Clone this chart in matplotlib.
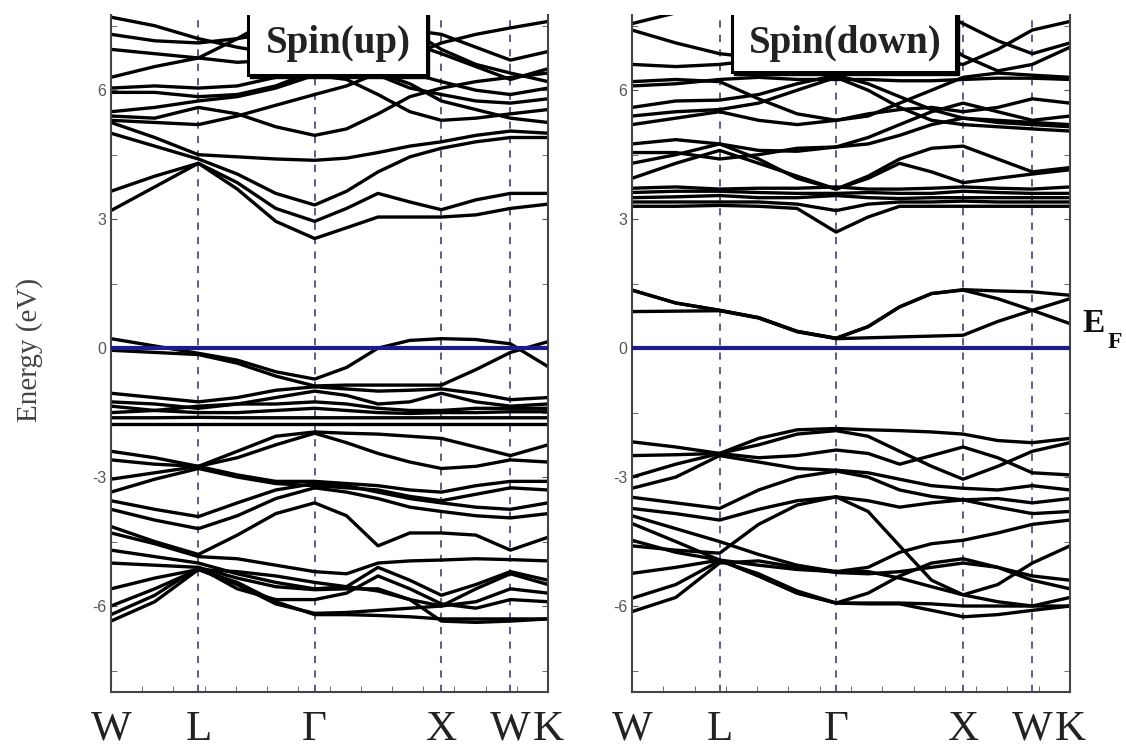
import matplotlib
matplotlib.use("Agg")
import matplotlib.pyplot as plt
from matplotlib.patches import Rectangle

# k-path sample points (fraction of the W-L-G-X-W-K path)
kpts = [0.0, 0.1, 0.2, 0.289, 0.377, 0.466, 0.539, 0.611, 0.684, 0.756, 0.835, 0.914, 1.0]
sym_pos = [0.0, 0.2, 0.466, 0.756, 0.914, 1.0]
sym_lab = ['W', 'L', 'Γ', 'X', 'W', 'K']

# spin up, conduction bands (eV)
up_cond = [
    [3.20, 3.75, 4.30, 3.70, 2.95, 2.55, 2.80, 3.05, 3.05, 3.05, 3.10, 3.25, 3.35],
    [3.65, 4.00, 4.30, 3.85, 3.25, 2.95, 3.25, 3.60, 3.40, 3.22, 3.45, 3.60, 3.60],
    [5.00, 4.70, 4.40, 4.05, 3.60, 3.33, 3.65, 4.10, 4.45, 4.65, 4.80, 4.90, 4.90],
    [5.25, 4.90, 4.50, 4.45, 4.40, 4.37, 4.42, 4.55, 4.70, 4.80, 4.95, 5.05, 5.00],
    [5.40, 5.35, 5.60, 5.45, 5.15, 4.95, 5.10, 5.45, 5.85, 6.05, 6.20, 6.30, 6.40],
    [5.50, 5.60, 5.75, 5.85, 6.05, 6.35, 6.25, 5.90, 5.50, 5.30, 5.35, 5.45, 5.55],
    [5.30, 5.25, 5.20, 5.40, 5.65, 5.90, 6.10, 6.40, 6.80, 7.10, 7.30, 7.45, 7.60],
    [5.95, 5.95, 5.85, 5.90, 6.10, 6.45, 6.60, 6.35, 6.05, 5.90, 5.75, 5.70, 5.80],
    [6.05, 6.10, 6.05, 6.10, 6.30, 6.70, 7.00, 6.80, 6.40, 6.20, 6.00, 5.90, 6.05],
    [6.30, 6.55, 6.75, 7.20, 7.70, 8.00, 8.00, 7.80, 7.40, 6.95, 6.60, 6.40, 6.20],
    [6.95, 6.85, 6.75, 6.65, 6.70, 6.90, 7.10, 7.30, 7.10, 6.85, 6.55, 6.25, 6.50],
    [7.30, 7.15, 7.10, 7.20, 7.35, 7.50, 7.60, 7.55, 7.40, 7.30, 7.00, 6.70, 6.90],
    [7.70, 7.50, 7.20, 7.00, 6.85, 6.70, 6.60, 6.40, 6.15, 5.75, 5.55, 5.35, 5.25],
]

# spin up, bands around the Fermi level
up_fermi = [
    [0.22, 0.05, -0.12, -0.28, -0.55, -0.72, -0.45, 0.00, 0.18, 0.22, 0.20, 0.10, -0.43],
    [-0.05, -0.10, -0.15, -0.35, -0.65, -0.88, -0.86, -0.86, -0.86, -0.86, -0.50, -0.10, 0.15],
    [-1.05, -1.15, -1.25, -1.15, -0.98, -0.90, -0.95, -1.00, -0.98, -0.95, -1.05, -1.20, -1.15],
    [-1.25, -1.30, -1.40, -1.30, -1.15, -1.00, -1.10, -1.30, -1.25, -1.05, -1.25, -1.35, -1.30],
    [-1.35, -1.45, -1.35, -1.30, -1.30, -1.25, -1.30, -1.40, -1.45, -1.45, -1.40, -1.40, -1.40],
    [-1.50, -1.45, -1.50, -1.50, -1.45, -1.40, -1.45, -1.50, -1.52, -1.50, -1.50, -1.48, -1.48],
    [-1.62, -1.62, -1.61, -1.62, -1.62, -1.62, -1.62, -1.62, -1.62, -1.62, -1.62, -1.62, -1.62],
    [-1.76, -1.76, -1.76, -1.76, -1.76, -1.76, -1.76, -1.76, -1.76, -1.76, -1.76, -1.76, -1.76],
]

# spin up, valence bands
up_val = [
    [-2.40, -2.55, -2.75, -2.40, -2.05, -1.95, -1.98, -2.00, -2.05, -2.10, -2.30, -2.50, -2.25],
    [-3.05, -2.90, -2.75, -2.55, -2.25, -1.98, -2.20, -2.45, -2.65, -2.80, -2.75, -2.60, -2.65],
    [-2.60, -2.70, -2.75, -2.95, -3.10, -3.10, -3.15, -3.20, -3.30, -3.35, -3.20, -3.10, -3.10],
    [-3.35, -3.05, -2.80, -3.00, -3.15, -3.20, -3.25, -3.30, -3.45, -3.55, -3.40, -3.25, -3.30],
    [-3.55, -3.75, -3.92, -3.60, -3.30, -3.15, -3.20, -3.35, -3.50, -3.60, -3.70, -3.75, -3.60],
    [-3.75, -4.00, -4.20, -3.90, -3.50, -3.25, -3.35, -3.50, -3.70, -3.80, -3.90, -3.95, -3.85],
    [-4.15, -4.50, -4.80, -4.35, -3.85, -3.60, -3.90, -4.60, -4.30, -4.30, -4.35, -4.70, -4.40],
    [-4.30, -4.55, -4.85, -4.90, -5.05, -5.20, -5.25, -5.00, -4.95, -4.93, -4.90, -4.92, -4.95],
    [-4.70, -4.85, -5.00, -5.25, -5.45, -5.60, -5.55, -5.10, -5.40, -5.75, -5.50, -5.20, -5.40],
    [-5.00, -5.05, -5.10, -5.35, -5.55, -5.62, -5.60, -5.60, -5.85, -6.00, -5.90, -5.60, -5.70],
    [-5.60, -5.35, -5.15, -5.50, -5.95, -6.17, -6.15, -6.10, -6.05, -6.00, -5.60, -5.25, -5.50],
    [-6.00, -5.60, -5.15, -5.45, -5.90, -6.20, -6.20, -6.22, -6.25, -6.30, -6.30, -6.30, -6.30],
    [-6.20, -5.75, -5.10, -5.60, -5.85, -5.85, -5.70, -5.30, -5.60, -5.95, -6.05, -5.85, -5.90],
    [-6.35, -5.90, -5.15, -5.20, -5.30, -5.45, -5.55, -5.65, -5.85, -6.35, -6.38, -6.35, -6.30],
]

# spin down, conduction bands
down_cond = [
    [3.30, 3.30, 3.32, 3.30, 3.25, 2.70, 3.05, 3.30, 3.30, 3.30, 3.30, 3.30, 3.30],
    [3.40, 3.40, 3.40, 3.40, 3.35, 3.20, 3.35, 3.40, 3.40, 3.42, 3.40, 3.40, 3.40],
    [3.50, 3.52, 3.55, 3.50, 3.50, 3.55, 3.50, 3.48, 3.50, 3.50, 3.50, 3.50, 3.50],
    [3.62, 3.65, 3.65, 3.62, 3.60, 3.60, 3.62, 3.60, 3.60, 3.65, 3.62, 3.60, 3.60],
    [3.72, 3.75, 3.70, 3.72, 3.72, 3.75, 3.70, 3.70, 3.72, 3.75, 3.72, 3.70, 3.75],
    [3.95, 4.30, 4.60, 4.30, 4.00, 3.70, 4.00, 4.40, 4.65, 4.70, 4.40, 4.10, 4.20],
    [4.30, 4.50, 4.75, 4.40, 3.95, 3.70, 3.95, 4.30, 4.10, 3.85, 3.95, 4.05, 4.15],
    [4.55, 4.55, 4.40, 4.50, 4.65, 4.68, 4.75, 4.95, 5.20, 5.35, 5.30, 5.25, 5.20],
    [4.75, 4.85, 4.75, 4.60, 4.58, 4.68, 4.90, 5.20, 5.50, 5.70, 5.50, 5.30, 5.40],
    [6.20, 6.25, 6.20, 5.80, 5.45, 5.30, 5.40, 5.70, 6.00, 6.30, 6.40, 6.35, 6.30],
    [5.40, 5.50, 5.55, 5.70, 6.00, 6.30, 6.00, 5.60, 5.30, 5.20, 5.15, 5.10, 5.05],
    [5.60, 5.75, 5.77, 5.90, 6.15, 6.35, 6.15, 5.85, 5.55, 5.35, 5.25, 5.20, 5.15],
    [6.10, 6.15, 6.25, 6.30, 6.25, 6.25, 6.25, 6.22, 6.22, 6.25, 6.28, 6.28, 6.25],
    [7.40, 7.10, 6.85, 6.75, 6.80, 6.90, 7.00, 7.20, 7.30, 6.80, 6.45, 6.60, 7.00],
    [7.55, 7.80, 8.00, 8.00, 8.00, 8.00, 8.00, 8.00, 7.90, 7.55, 7.15, 6.85, 7.10],
    [6.60, 6.55, 6.60, 6.70, 6.80, 6.90, 6.95, 6.85, 6.70, 6.60, 6.95, 7.40, 7.60],
    [5.20, 5.35, 5.50, 5.30, 5.20, 5.30, 5.45, 5.55, 5.60, 5.50, 5.60, 5.80, 5.70],
]

# spin down, bands inside the gap
down_gap = [
    [0.85, 0.86, 0.87, 0.70, 0.38, 0.22, 0.24, 0.26, 0.28, 0.30, 0.62, 0.88, 1.15],
    [1.35, 1.05, 0.88, 0.71, 0.39, 0.23, 0.50, 0.96, 1.27, 1.35, 1.15, 0.88, 0.57],
    [1.35, 1.05, 0.88, 0.71, 0.39, 0.23, 0.50, 0.96, 1.27, 1.36, 1.33, 1.31, 1.23],
]

# spin down, valence bands
down_val = [
    [-2.18, -2.30, -2.45, -2.10, -1.90, -1.87, -1.90, -1.92, -1.95, -2.00, -2.15, -2.20, -2.10],
    [-2.50, -2.48, -2.45, -2.25, -2.00, -1.92, -2.05, -2.40, -2.75, -3.05, -2.75, -2.40, -2.20],
    [-3.00, -2.70, -2.45, -2.55, -2.50, -2.37, -2.45, -2.70, -2.50, -2.30, -2.55, -2.90, -2.95],
    [-3.26, -3.00, -2.50, -2.65, -2.80, -2.84, -2.90, -3.05, -3.20, -3.26, -3.30, -3.20, -3.30],
    [-3.47, -3.60, -3.73, -3.30, -3.00, -2.86, -3.00, -3.30, -3.45, -3.53, -3.50, -3.60, -3.50],
    [-3.73, -3.85, -4.00, -3.75, -3.55, -3.46, -3.55, -3.70, -3.60, -3.53, -3.70, -3.85, -3.80],
    [-4.60, -4.70, -4.77, -4.10, -3.65, -3.46, -3.80, -4.60, -5.40, -5.74, -5.50, -5.00, -4.60],
    [-3.90, -4.20, -4.50, -4.80, -5.05, -5.20, -5.10, -4.75, -4.55, -4.47, -4.30, -4.10, -4.00],
    [-4.08, -4.50, -4.93, -5.05, -5.15, -5.20, -5.20, -5.35, -5.55, -5.74, -5.90, -6.00, -5.80],
    [-4.47, -4.75, -4.93, -5.30, -5.70, -5.93, -5.93, -5.93, -5.95, -6.00, -6.00, -6.00, -6.00],
    [-5.24, -5.10, -4.93, -5.30, -5.70, -5.93, -5.70, -5.30, -5.00, -4.90, -5.10, -5.40, -5.60],
    [-5.82, -5.50, -4.95, -5.25, -5.65, -5.93, -5.95, -5.95, -6.10, -6.25, -6.20, -6.10, -6.00],
    [-6.13, -5.80, -5.00, -4.95, -5.10, -5.22, -5.25, -5.20, -5.10, -5.00, -5.10, -5.30, -5.40],
]

yticks = [-6, -3, 0, 3, 6]
yminor = [-7.5, -4.5, -1.5, 1.5, 4.5, 7.5]

fig = plt.figure(figsize=(11.26, 7.54), dpi=100)
bot = 1 - 692 / 754
hgt = (692 - 15) / 754
ax1 = fig.add_axes([111 / 1126, bot, 437 / 1126, hgt])
ax2 = fig.add_axes([632 / 1126, bot, 438 / 1126, hgt])


def setup(ax, bands, title, box_x0, box_x1, box_y, text_x):
    for b in bands:
        ax.plot(kpts, b, color='black', lw=2.4, solid_joinstyle='round', zorder=2)
    for p in sym_pos[1:-1]:
        ax.axvline(p, color='#5b4a80', lw=1.3, ls=(0, (4, 4)), zorder=1)
    ax.axhline(0, color='#1c1c8a', lw=3, zorder=3)
    ax.set_xlim(0, 1)
    ax.set_ylim(-8, 7.75)
    ax.set_xticks(sym_pos)
    ax.set_xticklabels(sym_lab, fontfamily='Liberation Serif', fontsize=31, color='#222222')
    ax.set_xticks([i / 14 for i in range(1, 14)], minor=True)
    ax.tick_params(axis='x', which='major', length=0, pad=13)
    ax.tick_params(axis='x', which='minor', direction='in', length=4, color='#555555')
    ax.set_yticks(yticks)
    ax.set_yticks(yminor, minor=True)
    ax.set_yticklabels([str(t) for t in yticks], fontfamily='Liberation Sans', fontsize=11.5, color='#555555')
    ax.tick_params(axis='y', which='both', direction='in', length=4, right=True, color='#555555')
    ax.spines['top'].set_visible(False)
    for s in ['left', 'right', 'bottom']:
        ax.spines[s].set_color('#444444')
        ax.spines[s].set_linewidth(1.5)
    # label box with shadow
    ax.add_patch(Rectangle((box_x0 + 0.006, box_y - 0.07), box_x1 - box_x0, 3,
                           facecolor='black', edgecolor='black', zorder=4))
    ax.add_patch(Rectangle((box_x0, box_y), box_x1 - box_x0, 3,
                           facecolor='white', edgecolor='black', lw=2.2, zorder=4))
    ax.text(text_x, 7.08, title, fontfamily='Liberation Serif', fontweight='bold',
            fontsize=28, ha='center', va='center', color='#222222', zorder=5)


setup(ax1, up_cond + up_fermi + up_val, 'Spin(up)', 0.313, 0.722, 6.35, 0.52)
setup(ax2, down_cond + down_gap + down_val, 'Spin(down)', 0.228, 0.740, 6.42, 0.486)

fig.text(30 / 1126, 1 - 350 / 754, 'Energy (eV)', rotation=90, fontfamily='Liberation Serif',
         fontsize=21, color='#444444', ha='center', va='center')
fig.text(1094 / 1126, 1 - 324 / 754, 'E', fontfamily='Liberation Serif', fontweight='bold',
         fontsize=24, ha='center', va='center', color='#111111')
fig.text(1115 / 1126, 1 - 342 / 754, 'F', fontfamily='Liberation Serif', fontweight='bold',
         fontsize=17, ha='center', va='center', color='#111111')

fig.savefig('out.png', dpi=100)
